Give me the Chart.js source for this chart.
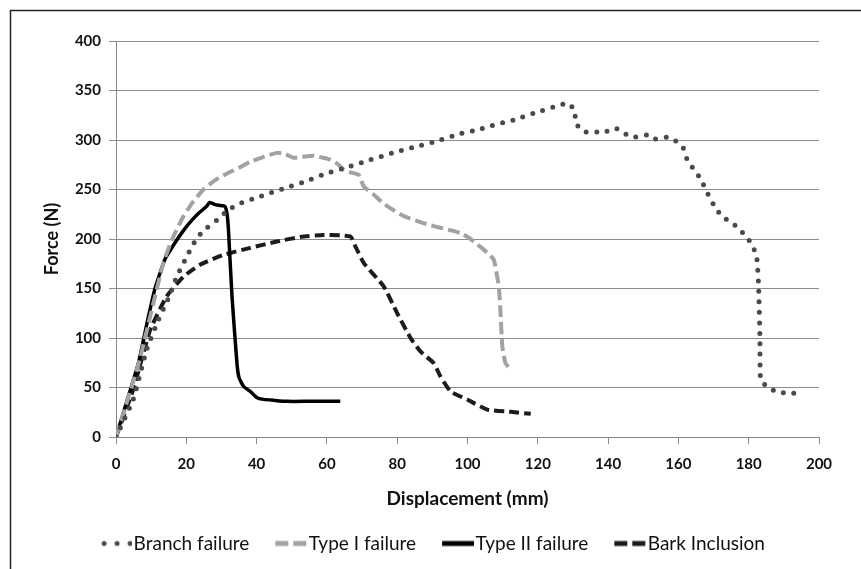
<!DOCTYPE html>
<html>
<head>
<meta charset="utf-8">
<script src="https://cdn.jsdelivr.net/npm/chart.js@4/dist/chart.umd.min.js"></script>
<style>
  html, body { margin: 0; padding: 0; background: #fff; }
  #wrap { width: 861px; height: 569px; }
</style>
</head>
<body>
<div id="wrap"><canvas id="forceChart"></canvas></div>
<script>
// Data (displacement in mm, force in N)
const branchX = [0, 4.9, 8.7, 12, 14.9, 17.3, 20.1, 23, 25.8, 28.7, 32, 35.3, 41, 47.7, 53.8, 60, 66.2, 72.4, 78.5, 84.7, 90.9, 97.5, 103.7, 107, 113.2, 119.4, 125.5, 128.6, 130.5, 130.8, 133.1, 139.3, 142.2, 144.5, 147.4, 151, 153.2, 156.6, 159.2, 161.4, 162.5, 164.5, 166.4, 167.8, 170.6, 172.7, 175.4, 177.5, 179.6, 181.1, 182.3, 182.8, 183.2, 183.4, 185.4, 188.2, 191.8, 195.5];
const branchY = [0, 38, 88, 118, 140, 162, 182, 201, 211, 219, 229.5, 236, 243, 251, 258, 266.5, 273, 280, 286.7, 292.7, 298.5, 306, 311, 314.6, 320.3, 327.7, 334.4, 337, 329.7, 317, 308.5, 308.5, 311.9, 306.8, 302.8, 305, 301, 302.8, 299, 291.7, 280, 269.8, 260.4, 249.6, 231, 222, 216, 209.3, 200.9, 193.5, 180.8, 153.9, 100, 58, 50.4, 45.4, 44.4, 43.4];

const type1X = [0, 6.5, 11.1, 13.5, 16, 19.2, 22, 24.9, 28, 31.5, 35, 38.2, 42, 45.8, 48, 50.5, 53, 56.2, 59, 61, 63, 64.8, 67, 69, 70.5, 73.3, 76, 79, 82, 86.6, 90.4, 95, 98, 100.5, 103.7, 106, 107.5, 108.9, 109.4, 109.9, 110.8, 112.3];
const type1Y = [0, 75, 142, 176, 200, 223, 238, 250, 259, 266, 272, 278, 283, 287, 286, 282, 283, 284, 282, 280, 276, 270, 267, 265, 253, 245, 236, 229, 223, 217, 213, 209, 206, 201, 192, 185, 179, 152, 125, 91.5, 74.6, 68];

const type2X = [0, 3, 6.4, 9, 11.1, 14, 17.3, 19.5, 21.6, 23.5, 25.8, 26.6, 28, 29.2, 31, 31.6, 32, 33, 34.4, 35, 36.3, 38.2, 40, 42, 45, 48.6, 55, 63.8];
const type2Y = [0, 35, 75, 118, 150, 180, 199, 210, 219, 226, 233, 237, 235, 234, 233, 225, 209, 142, 75, 60, 51, 46, 40, 38, 37, 36, 36, 36];

const barkX = [0, 4.9, 9.7, 14.4, 19.2, 23.9, 30.6, 38.2, 45.8, 52.4, 59, 66.7, 68.1, 70.5, 76.2, 80, 83.8, 86.6, 90.4, 92.3, 95.2, 99.9, 105.6, 112.3, 118];
const barkY = [0, 47.8, 108, 142, 162, 174, 184, 191, 197.5, 202, 204, 202.6, 192.5, 175.6, 152, 125, 100, 86.4, 74.6, 61.2, 46, 37.9, 27.7, 25.4, 23.4];

const seriesNames = ['Branch failure', 'Type I failure', 'Type II failure', 'Bark Inclusion'];

function pts(xs, ys) {
  return xs.map((x, i) => ({x: x, y: ys[i]}));
}

const FONT = 'Lato, "Open Sans", sans-serif';

// little canvas used as legend symbol (Chart.js closes a 'line' point, so its dashes get filled in).
// The symbol sits in the right part of the canvas so it ends just before the label text.
function legendIcon(color, width, dash, cap) {
  const c = document.createElement('canvas');
  c.width = 50;
  c.height = 10;
  const g = c.getContext('2d');
  g.strokeStyle = color;
  g.lineWidth = width;
  g.lineCap = cap || 'butt';
  g.setLineDash(dash);
  g.beginPath();
  g.moveTo(cap === 'round' ? 22 : 18, 5);
  g.lineTo(50, 5);
  g.stroke();
  return c;
}

// thin frame round the picture (left and top edges only, as in the scan)
const frame = {
  id: 'frame',
  beforeDraw(chart) {
    const {ctx, width, height} = chart;
    ctx.save();
    ctx.fillStyle = '#fff';
    ctx.fillRect(0, 0, width, height);
    ctx.strokeStyle = '#222';
    ctx.lineWidth = 1.5;
    ctx.beginPath();
    ctx.moveTo(10.5, height);
    ctx.lineTo(10.5, 10.5);
    ctx.lineTo(width, 10.5);
    ctx.stroke();
    ctx.restore();
  }
};

// the legend in the picture is centred on the whole image, not on the plot
const legendShift = {
  id: 'legendShift',
  afterLayout(chart) {
    chart.legend.left += 18;
    chart.legend.right += 18;
  }
};

const data = {
  datasets: [{
    label: seriesNames[0],
    data: pts(branchX, branchY),
    borderColor: '#4a4a4a',
    borderWidth: 5,
    borderDash: [0, 10.5],
    borderCapStyle: 'round',
    pointStyle: legendIcon('#4a4a4a', 5, [0, 13], 'round'),
  }, {
    label: seriesNames[1],
    data: pts(type1X, type1Y),
    borderColor: '#a2a2a2',
    borderWidth: 4,
    borderDash: [12, 5],
    pointStyle: legendIcon('#a2a2a2', 5, [13, 5], 'butt'),
  }, {
    label: seriesNames[2],
    data: pts(type2X, type2Y),
    borderColor: '#000',
    borderWidth: 3.5,
    pointStyle: legendIcon('#000', 5, [], 'butt'),
  }, {
    label: seriesNames[3],
    data: pts(barkX, barkY),
    borderColor: '#1c1c1c',
    borderWidth: 4,
    borderDash: [10, 5],
    pointStyle: legendIcon('#1c1c1c', 5, [13, 5], 'butt'),
  }]
};

const options = {
  responsive: true,
  maintainAspectRatio: false,
  animation: false,
  layout: {padding: {left: 0, right: 42, top: 41, bottom: 6}},
  elements: {
    point: {radius: 0, hoverRadius: 0},
    line: {tension: 0.15, fill: false}
  },
  scales: {
    x: {
      type: 'linear',
      min: 0, max: 200,
      ticks: {stepSize: 20, color: '#111', padding: 11, font: {family: FONT, size: 15, weight: 'bold'}},
      grid: {drawOnChartArea: false, drawTicks: true, tickLength: 7, color: '#888'},
      border: {color: '#888'},
      title: {display: true, text: 'Displacement (mm)', color: '#111', padding: {top: 0, bottom: 8},
              font: {family: FONT, size: 19, weight: 'bold'}},
      afterFit(scale) { scale.height = 81; }
    },
    y: {
      min: 0, max: 400,
      ticks: {stepSize: 50, color: '#111', padding: 8, font: {family: FONT, size: 15, weight: 'bold'}},
      grid: {color: '#8c8c8c', tickLength: 7},
      border: {color: '#888'},
      title: {display: true, text: 'Force (N)', color: '#111', padding: {top: 41, bottom: 0},
              font: {family: FONT, size: 18, weight: 'bold'}},
      afterFit(scale) { scale.width = 116; }
    }
  },
  plugins: {
    tooltip: {enabled: false},
    legend: {
      position: 'bottom',
      labels: {
        usePointStyle: true,
        pointStyleWidth: 34,
        padding: 16,
        color: '#111',
        font: {family: FONT, size: 19}
      }
    }
  }
};

new Chart(document.getElementById('forceChart'), {
  type: 'line',
  data: data,
  options: options,
  plugins: [frame, legendShift]
});
</script>
</body>
</html>
